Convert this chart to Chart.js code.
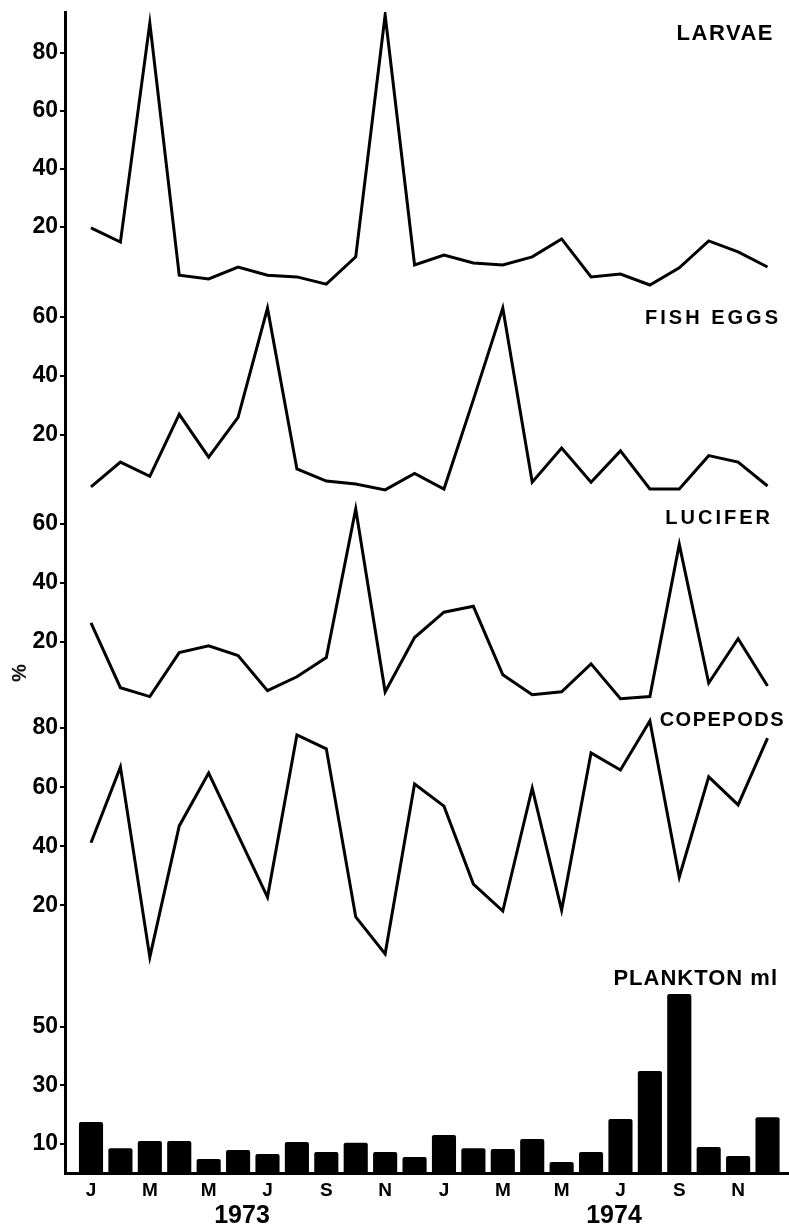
<!DOCTYPE html>
<html>
<head>
<meta charset="utf-8">
<script src="https://cdn.jsdelivr.net/npm/chart.js@4.4.0/dist/chart.umd.min.js"></script>
<style>
  html, body { margin: 0; padding: 0; background: #fff; }
  #wrap { position: relative; width: 789px; height: 1228px; overflow: hidden; background: #fff; }
  #wrap canvas { position: absolute; left: 0; top: 0; }
  .lbl { position: absolute; font-family: 'Liberation Sans', Arial, sans-serif; font-weight: bold; color: #000; line-height: 1; white-space: nowrap; }
  .yr { font-family: 'Liberation Sans Narrow', 'Liberation Sans', Arial, sans-serif; font-size: 25px; width: 80px; text-align: center; }
</style>
</head>
<body>
<div id="wrap">
  <canvas id="chart" width="789" height="1228"></canvas>
  <div class="lbl" style="right:15px;top:22px;font-size:22px;letter-spacing:1.5px">LARVAE</div>
  <div class="lbl" style="right:8px;top:307px;font-size:20px;letter-spacing:3px">FISH EGGS</div>
  <div class="lbl" style="right:16px;top:507px;font-size:20px;letter-spacing:3px">LUCIFER</div>
  <div class="lbl" style="right:4px;top:709px;font-size:20px;letter-spacing:1.5px">COPEPODS</div>
  <div class="lbl" style="right:11px;top:967px;font-size:22px;letter-spacing:1px">PLANKTON ml</div>
  <div class="lbl" style="left:10px;top:663px;font-size:20px;transform:rotate(-90deg)">%</div>
  <div class="lbl yr" style="left:202px;top:1202px">1973</div>
  <div class="lbl yr" style="left:574px;top:1202px">1974</div>
</div>
<script>
// monthly samples, Jan 1973 - Dec 1974
const months = ['J','F','M','A','M','J','J','A','S','O','N','D',
                'J','F','M','A','M','J','J','A','S','O','N','D'];
const monthTicks = [0, 2, 4, 6, 8, 10, 12, 14, 16, 18, 20, 22];

const larvae   = [19.7, 14.8, 90.3, 3.4, 2.1, 6.2, 3.4, 2.8, 0.3, 9.7, 93.1, 6.9,
                  10.3, 7.6, 6.9, 9.7, 15.9, 2.8, 3.8, 0, 5.9, 15.2, 11.4, 6.2];
const fishEggs = [2.4, 10.8, 6, 27, 12.5, 26, 63, 8.5, 4.4, 3.4, 1.4, 7,
                  1.7, 32, 63, 4, 15.6, 4, 14.6, 1.7, 1.7, 13, 10.8, 2.7];
const lucifer  = [26.4, 4.4, 1.4, 16.3, 18.6, 15.3, 3.4, 8.1, 14.6, 65, 3, 21.4,
                  30, 32, 8.8, 2, 3, 12.5, 0.7, 1.4, 53, 6, 21, 5];
const copepods = [41.2, 66.8, 2.5, 46.9, 64.8, 43.8, 22.8, 77.7, 73, 16.1, 3.6, 61.1,
                  53.6, 27.2, 18.1, 59.7, 18.4, 71.6, 65.8, 82.4, 29.6, 63.5, 54, 76.6];
const plankton = [17.4, 8.5, 10.9, 10.9, 4.8, 7.9, 6.5, 10.6, 7.2, 10.3, 7.2, 5.5,
                  13, 8.5, 8.2, 11.6, 3.8, 7.2, 18.5, 34.9, 61.2, 8.9, 5.8, 19.1];

const larvaeTicks   = [20, 40, 60, 80];
const fishEggsTicks = [20, 40, 60];
const luciferTicks  = [20, 40, 60];
const copepodsTicks = [20, 40, 60, 80];
const planktonTicks = [10, 30, 50];

// layout: panels share one plot area, each y axis gets its own band
const AREA_TOP = 12;
const AREA_BOTTOM = 1173;
const bands = {              // [pixel of zero, pixels per unit]
  yLarvae:   [285, 2.9],
  yFish:     [494, 2.95],
  yLucifer:  [700.7, 2.95],
  yCopepods: [964.5, 2.955],
  yPlankton: [1173, 2.925],
};

const tickFont = { family: "'Liberation Sans', Arial, sans-serif", size: 23, weight: 'bold' };

function pts(arr) {
  return arr.map((v, i) => ({ x: i, y: v }));
}

function yAxis(id, ticks, showBorder) {
  const [zero, ppu] = bands[id];
  return {
    type: 'linear',
    position: 'left',
    bounds: 'data',
    min: -(AREA_BOTTOM - zero) / ppu,
    max: (zero - AREA_TOP) / ppu,
    afterBuildTicks: a => { a.ticks = ticks.map(v => ({ value: v })); },
    afterFit: a => { a.width = 0; a.paddingTop = 0; a.paddingBottom = 0; },
    ticks: { color: '#000', font: tickFont, padding: 2, autoSkip: false },
    grid: { drawOnChartArea: false, drawTicks: true, tickLength: 5, color: '#000', lineWidth: 2 },
    border: { display: showBorder, color: '#000', width: 3 },
  };
}

// the y axes are squeezed to zero width so they sit on one line;
// widen their box to the left edge so tick labels are not clipped
const widenYAxes = {
  id: 'widenYAxes',
  afterLayout(chart) {
    Object.values(chart.scales).forEach(s => {
      if (s.axis === 'y') s.left = 0;
    });
  }
};

const lineStyle = {
  type: 'line',
  borderColor: '#000',
  borderWidth: 3,
  pointRadius: 0,
  tension: 0,
  borderJoinStyle: 'miter',
  fill: false,
};

new Chart(document.getElementById('chart'), {
  type: 'line',
  data: {
    datasets: [
      { ...lineStyle, label: 'Larvae', data: pts(larvae), yAxisID: 'yLarvae' },
      { ...lineStyle, label: 'Fish eggs', data: pts(fishEggs), yAxisID: 'yFish' },
      { ...lineStyle, label: 'Lucifer', data: pts(lucifer), yAxisID: 'yLucifer' },
      { ...lineStyle, label: 'Copepods', data: pts(copepods), yAxisID: 'yCopepods' },
      {
        type: 'bar', label: 'Plankton ml', data: pts(plankton), yAxisID: 'yPlankton',
        backgroundColor: '#000', borderWidth: 0, borderRadius: 2,
        barPercentage: 0.82, categoryPercentage: 1,
      },
    ]
  },
  options: {
    responsive: false,
    animation: false,
    devicePixelRatio: 1,
    layout: { padding: { left: 65, top: AREA_TOP, right: 0, bottom: 0 } },
    plugins: { legend: { display: false }, tooltip: { enabled: false } },
    scales: {
      x: {
        type: 'linear',
        bounds: 'data',
        offset: false,
        min: -0.884,
        max: 23.73,
        afterBuildTicks: a => { a.ticks = monthTicks.map(v => ({ value: v })); },
        afterFit: a => { a.height = 55; a.paddingLeft = 0; a.paddingRight = 0; },
        ticks: {
          color: '#000', padding: 6, autoSkip: false, maxRotation: 0,
          font: { family: "'Liberation Sans', Arial, sans-serif", size: 19, weight: 'bold' },
          callback: v => months[v],
        },
        grid: { display: false, drawTicks: false },
        border: { display: true, color: '#000', width: 3 },
      },
      yLarvae: yAxis('yLarvae', larvaeTicks, true),
      yFish: yAxis('yFish', fishEggsTicks, false),
      yLucifer: yAxis('yLucifer', luciferTicks, false),
      yCopepods: yAxis('yCopepods', copepodsTicks, false),
      yPlankton: yAxis('yPlankton', planktonTicks, false),
    }
  },
  plugins: [widenYAxes]
});
</script>
</body>
</html>
